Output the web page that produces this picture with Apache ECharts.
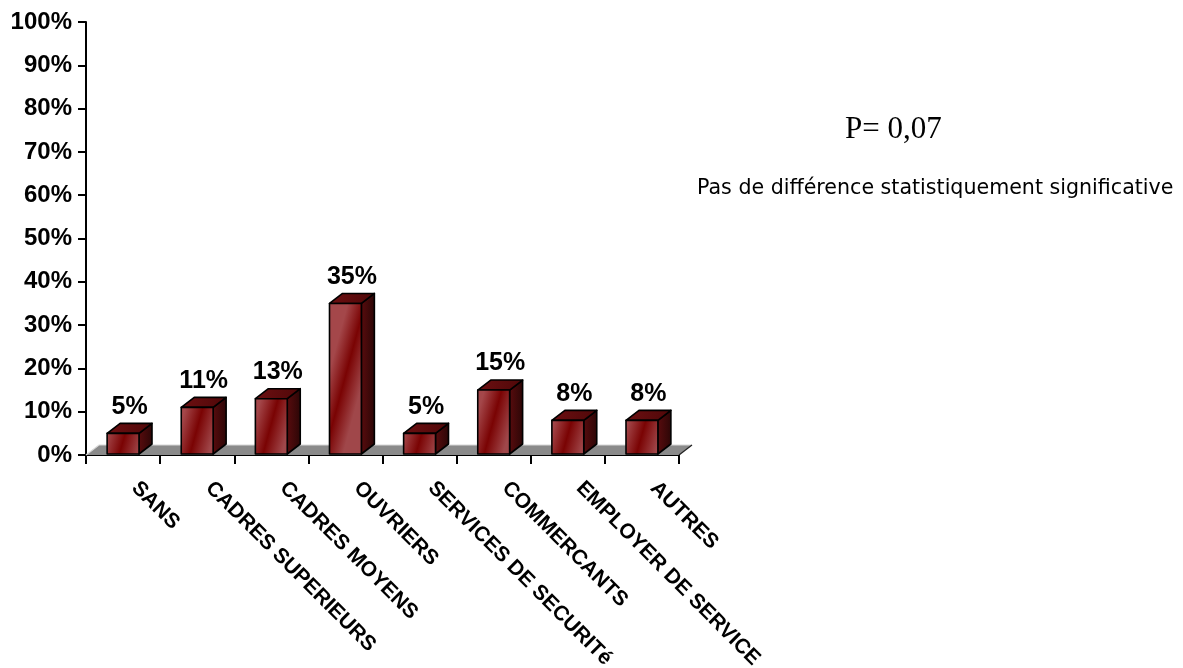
<!DOCTYPE html>
<html>
<head>
<meta charset="utf-8">
<script src="https://cdn.jsdelivr.net/npm/echarts@6/dist/echarts.min.js"></script>
<style>
html,body{margin:0;padding:0;background:#fff;}
#chart{width:1183px;height:668px;}
</style>
</head>
<body>
<div id="chart"></div>
<script>
const categories = ['SANS', 'CADRES SUPERIEURS', 'CADRES MOYENS', 'OUVRIERS', 'SERVICES DE SECURITé', 'COMMERCANTS', 'EMPLOYER DE SERVICE', 'AUTRES'];
const values = [5, 11, 13, 35, 5, 15, 8, 8];
const yMin = 0, yMax = 100, yInterval = 10;
const pText = 'P= 0,07';
const noteText = 'Pas de différence statistiquement significative';

const DX = 13, DY = 10;

const chart = echarts.init(document.getElementById('chart'));

function renderFloor(params, api) {
  const band = api.size([1, 0])[0];
  const a = api.coord([0, 0]);
  const b = api.coord([categories.length - 1, 0]);
  const x0 = a[0] - band / 2, x1 = b[0] + band / 2, y0 = a[1];
  return {
    type: 'group',
    children: [
      { type: 'polygon', shape: { points: [[x0, y0], [x0 + DX, y0 - DY], [x1 + DX, y0 - DY], [x1, y0]] },
        style: { fill: '#8a8a8a', stroke: null } },
      { type: 'polyline', shape: { points: [[x0, y0], [x0 + DX, y0 - DY], [x1 + DX, y0 - DY]] },
        style: { stroke: '#d8d8d8', lineWidth: 1.2, fill: null } },
      { type: 'line', shape: { x1: x1 + DX, y1: y0 - DY, x2: x1, y2: y0 },
        style: { stroke: '#222', lineWidth: 1.2 } }
    ]
  };
}

function renderBar(params, api) {
  const idx = api.value(0), v = api.value(1);
  const base = api.coord([idx, 0]);
  const top = api.coord([idx, v]);
  const band = api.size([1, 0])[0];
  const w = band * 0.43;
  const xl = base[0] - w / 2, xr = base[0] + w / 2;
  const yt = top[1], yb = base[1] - 1;
  const h = Math.max(1, yb - yt);
  const s = Math.min(0.5, 0.14 * w / h);
  const border = { stroke: '#000', lineWidth: 1.6, lineJoin: 'round' };
  return {
    type: 'group',
    children: [
      { type: 'polygon', shape: { points: [[xr, yt], [xr + DX, yt - DY], [xr + DX, yb - DY], [xr, yb]] },
        style: Object.assign({ fill: new echarts.graphic.LinearGradient(0, 0, 1, 0, [
          { offset: 0, color: '#5a0c0e' }, { offset: 1, color: '#2a0606' }]) }, border) },
      { type: 'polygon', shape: { points: [[xl, yt], [xl + DX, yt - DY], [xr + DX, yt - DY], [xr, yt]] },
        style: Object.assign({ fill: new echarts.graphic.LinearGradient(0, 0, 1, 1, [
          { offset: 0, color: '#6e1012' }, { offset: 1, color: '#4e0708' }]) }, border) },
      { type: 'rect', shape: { x: xl, y: yt, width: w, height: yb - yt },
        style: Object.assign({ fill: new echarts.graphic.LinearGradient(0, 0.5 - s, 1, 0.5 + s, [
          { offset: 0, color: '#a4474a' }, { offset: 0.48, color: '#7a0303' }, { offset: 1, color: '#a0474a' }]) }, border) },
      { type: 'text', style: { text: v + '%', x: base[0] + DX / 2, y: yt - DY - 4,
          align: 'center', verticalAlign: 'bottom', fill: '#000',
          font: 'bold 25px "Liberation Sans", Arial, sans-serif' } }
    ]
  };
}

chart.setOption({
  animation: false,
  backgroundColor: '#ffffff',
  grid: { left: 86, right: 504, top: 22, bottom: 213, containLabel: false, outerBoundsMode: 'none' },
  xAxis: {
    type: 'category',
    data: categories,
    boundaryGap: true,
    axisLine: { show: true, lineStyle: { color: '#000', width: 2 } },
    axisTick: { show: true, length: 9, lineStyle: { color: '#000', width: 2 } },
    axisLabel: {
      rotate: -45, interval: 0, margin: 33, color: '#000',
      align: 'left', verticalAlign: 'bottom', padding: [0, 0, 0, 6],
      fontFamily: '"Liberation Sans", Arial, sans-serif', fontWeight: 'bold', fontSize: 21
    },
    splitLine: { show: false }
  },
  yAxis: {
    type: 'value', min: yMin, max: yMax, interval: yInterval,
    axisLine: { show: true, lineStyle: { color: '#000', width: 2 } },
    axisTick: { show: true, length: 8, lineStyle: { color: '#000', width: 2 } },
    axisLabel: {
      formatter: '{value}%', margin: 14, color: '#000',
      fontFamily: '"Liberation Sans", Arial, sans-serif', fontWeight: 'bold', fontSize: 24
    },
    splitLine: { show: false }
  },
  series: [
    { type: 'custom', renderItem: renderFloor, data: [[0]], silent: true, z: 1 },
    { type: 'custom', renderItem: renderBar, data: values.map((v, i) => [i, v]),
      encode: { x: 0, y: 1 }, z: 3, clip: false }
  ],
  graphic: [
    { type: 'text', left: 845, top: 114, style: { text: pText, fill: '#000',
        font: '31px "Liberation Serif", "Times New Roman", serif' } },
    { type: 'text', left: 697, top: 178, style: { text: noteText, fill: '#000',
        font: '20.6px "DejaVu Sans", Verdana, sans-serif' } }
  ]
});
</script>
</body>
</html>
